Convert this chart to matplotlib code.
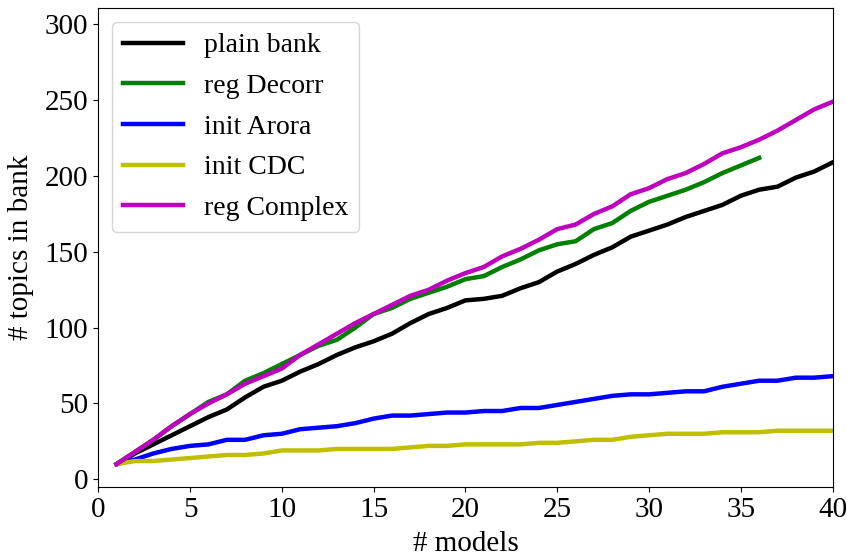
import matplotlib
matplotlib.use('Agg')
import matplotlib.pyplot as plt

# number of models combined
models = list(range(1, 41))

plain_bank = [10, 17, 23, 29, 35, 41, 46, 54, 61, 65, 71, 76, 82, 87, 91, 96, 103, 109, 113, 118,
              119, 121, 126, 130, 137, 142, 148, 153, 160, 164, 168, 173, 177, 181, 187, 191, 193, 199, 203, 209]
reg_decorr = [10, 18, 26, 35, 43, 51, 56, 65, 70, 76, 82, 88, 92, 100, 109, 113, 119, 123, 127, 132,
              134, 140, 145, 151, 155, 157, 165, 169, 177, 183, 187, 191, 196, 202, 207, 212]
init_arora = [10, 13, 17, 20, 22, 23, 26, 26, 29, 30, 33, 34, 35, 37, 40, 42, 42, 43, 44, 44,
              45, 45, 47, 47, 49, 51, 53, 55, 56, 56, 57, 58, 58, 61, 63, 65, 65, 67, 67, 68]
init_cdc = [10, 12, 12, 13, 14, 15, 16, 16, 17, 19, 19, 19, 20, 20, 20, 20, 21, 22, 22, 23,
            23, 23, 23, 24, 24, 25, 26, 26, 28, 29, 30, 30, 30, 31, 31, 31, 32, 32, 32, 32]
reg_complex = [10, 18, 26, 35, 43, 50, 56, 63, 68, 73, 82, 89, 96, 103, 109, 115, 121, 125, 131, 136,
               140, 147, 152, 158, 165, 168, 175, 180, 188, 192, 198, 202, 208, 215, 219, 224, 230, 237, 244, 249]

plt.rcParams['font.family'] = ['Liberation Serif', 'DejaVu Serif']
plt.rcParams['font.size'] = 20

fig = plt.figure(figsize=(8.47, 5.57), dpi=100)
ax = fig.add_axes([0.116, 0.126, 0.867, 0.86])

lw = 3.2
ax.plot(models, plain_bank, color='k', lw=lw, label='plain bank')
ax.plot(models[:len(reg_decorr)], reg_decorr, color='g', lw=lw, label='reg Decorr')
ax.plot(models, init_arora, color='b', lw=lw, label='init Arora')
ax.plot(models, init_cdc, color='y', lw=lw, label='init CDC')
ax.plot(models, reg_complex, color='m', lw=lw, label='reg Complex')

ax.set_xlim(0, 40)
ax.set_ylim(-5, 311)
ax.set_xticks(range(0, 41, 5))
ax.set_yticks(range(0, 301, 50))
ax.tick_params(labelsize=21)
ax.set_xlabel('# models', fontsize=21, labelpad=6)
ax.set_ylabel('# topics in bank', fontsize=21, labelpad=8)
ax.legend(loc='upper left', fontsize=20, handlelength=2.15, handletextpad=0.75,
          borderaxespad=0.5, labelspacing=0.55)

fig.savefig('out.png', dpi=100)
